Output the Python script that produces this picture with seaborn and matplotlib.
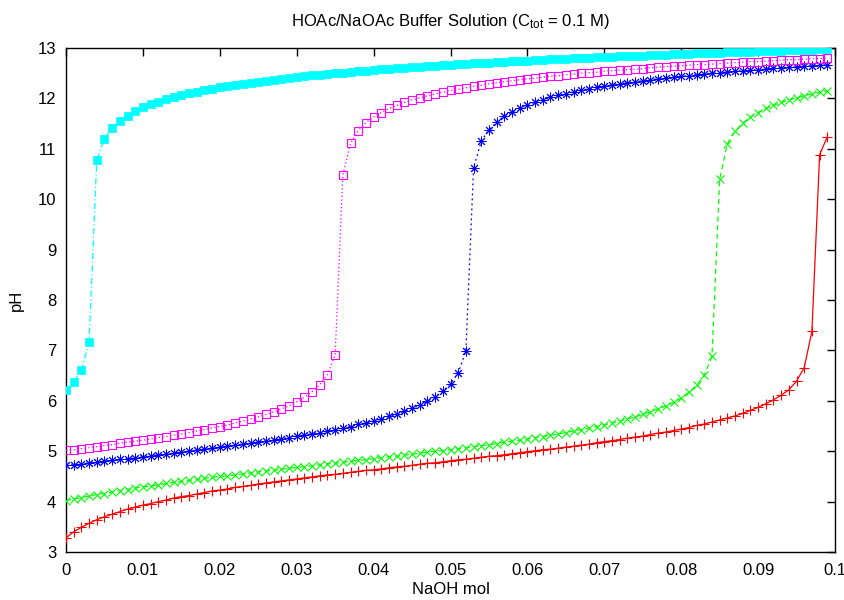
import matplotlib
matplotlib.use("Agg")
import matplotlib.pyplot as plt
import seaborn as sns

# ---------------- data ----------------
naoh_mol = [0.000, 0.001, 0.002, 0.003, 0.004, 0.005, 0.006, 0.007, 0.008, 0.009,
            0.010, 0.011, 0.012, 0.013, 0.014, 0.015, 0.016, 0.017, 0.018, 0.019,
            0.020, 0.021, 0.022, 0.023, 0.024, 0.025, 0.026, 0.027, 0.028, 0.029,
            0.030, 0.031, 0.032, 0.033, 0.034, 0.035, 0.036, 0.037, 0.038, 0.039,
            0.040, 0.041, 0.042, 0.043, 0.044, 0.045, 0.046, 0.047, 0.048, 0.049,
            0.050, 0.051, 0.052, 0.053, 0.054, 0.055, 0.056, 0.057, 0.058, 0.059,
            0.060, 0.061, 0.062, 0.063, 0.064, 0.065, 0.066, 0.067, 0.068, 0.069,
            0.070, 0.071, 0.072, 0.073, 0.074, 0.075, 0.076, 0.077, 0.078, 0.079,
            0.080, 0.081, 0.082, 0.083, 0.084, 0.085, 0.086, 0.087, 0.088, 0.089,
            0.090, 0.091, 0.092, 0.093, 0.094, 0.095, 0.096, 0.097, 0.098, 0.099]

ph_red = [3.28, 3.40, 3.49, 3.57, 3.64, 3.70, 3.75, 3.80, 3.85, 3.89,
          3.93, 3.96, 4.00, 4.03, 4.07, 4.10, 4.12, 4.15, 4.18, 4.21,
          4.23, 4.25, 4.28, 4.30, 4.32, 4.35, 4.37, 4.39, 4.41, 4.43,
          4.45, 4.47, 4.49, 4.51, 4.53, 4.54, 4.56, 4.58, 4.60, 4.62,
          4.63, 4.65, 4.67, 4.69, 4.70, 4.72, 4.74, 4.76, 4.77, 4.79,
          4.81, 4.83, 4.84, 4.86, 4.88, 4.90, 4.91, 4.93, 4.95, 4.97,
          4.99, 5.01, 5.03, 5.04, 5.06, 5.08, 5.10, 5.12, 5.14, 5.17,
          5.19, 5.21, 5.23, 5.26, 5.28, 5.30, 5.33, 5.36, 5.38, 5.41,
          5.44, 5.47, 5.51, 5.54, 5.58, 5.62, 5.66, 5.70, 5.75, 5.81,
          5.87, 5.94, 6.02, 6.11, 6.22, 6.39, 6.66, 7.38, 10.88, 11.24]

ph_green = [4.02, 4.05, 4.08, 4.11, 4.14, 4.16, 4.19, 4.22, 4.24, 4.27,
            4.29, 4.31, 4.33, 4.36, 4.38, 4.40, 4.42, 4.44, 4.46, 4.48,
            4.50, 4.51, 4.53, 4.55, 4.57, 4.59, 4.61, 4.62, 4.64, 4.66,
            4.68, 4.69, 4.71, 4.73, 4.75, 4.76, 4.78, 4.80, 4.82, 4.83,
            4.85, 4.87, 4.89, 4.90, 4.92, 4.94, 4.96, 4.98, 5.00, 5.01,
            5.03, 5.05, 5.07, 5.09, 5.11, 5.13, 5.15, 5.18, 5.20, 5.22,
            5.24, 5.27, 5.29, 5.32, 5.34, 5.37, 5.40, 5.43, 5.46, 5.49,
            5.52, 5.56, 5.60, 5.64, 5.68, 5.73, 5.78, 5.84, 5.90, 5.97,
            6.06, 6.17, 6.31, 6.51, 6.88, 10.40, 11.10, 11.35, 11.51, 11.63,
            11.72, 11.80, 11.86, 11.92, 11.97, 12.01, 12.05, 12.09, 12.12, 12.15]

ph_blue = [4.72, 4.73, 4.75, 4.77, 4.78, 4.80, 4.82, 4.84, 4.85, 4.87,
           4.89, 4.91, 4.93, 4.94, 4.96, 4.98, 5.00, 5.02, 5.04, 5.06,
           5.08, 5.10, 5.12, 5.14, 5.16, 5.18, 5.20, 5.22, 5.25, 5.27,
           5.30, 5.32, 5.35, 5.37, 5.40, 5.43, 5.46, 5.49, 5.53, 5.56,
           5.60, 5.64, 5.69, 5.73, 5.79, 5.85, 5.91, 5.99, 6.08, 6.19,
           6.34, 6.55, 6.99, 10.62, 11.15, 11.38, 11.53, 11.65, 11.73, 11.81,
           11.87, 11.93, 11.97, 12.02, 12.06, 12.09, 12.13, 12.16, 12.19, 12.22,
           12.24, 12.27, 12.29, 12.31, 12.33, 12.35, 12.37, 12.39, 12.41, 12.42,
           12.44, 12.45, 12.47, 12.48, 12.50, 12.51, 12.52, 12.54, 12.55, 12.56,
           12.57, 12.58, 12.60, 12.61, 12.62, 12.63, 12.64, 12.65, 12.66, 12.67]

ph_magenta = [5.02, 5.03, 5.05, 5.07, 5.09, 5.11, 5.13, 5.16, 5.18, 5.20,
              5.22, 5.24, 5.27, 5.29, 5.32, 5.34, 5.37, 5.40, 5.43, 5.46,
              5.49, 5.52, 5.56, 5.60, 5.64, 5.68, 5.73, 5.78, 5.84, 5.90,
              5.98, 6.07, 6.18, 6.32, 6.52, 6.91, 10.48, 11.11, 11.36, 11.52,
              11.63, 11.72, 11.80, 11.86, 11.92, 11.97, 12.01, 12.05, 12.09, 12.12,
              12.16, 12.18, 12.21, 12.24, 12.26, 12.29, 12.31, 12.33, 12.35, 12.37,
              12.39, 12.40, 12.42, 12.44, 12.45, 12.47, 12.48, 12.50, 12.51, 12.52,
              12.54, 12.55, 12.56, 12.57, 12.58, 12.59, 12.61, 12.62, 12.63, 12.64,
              12.65, 12.66, 12.67, 12.67, 12.68, 12.69, 12.70, 12.71, 12.72, 12.73,
              12.73, 12.74, 12.75, 12.76, 12.77, 12.77, 12.78, 12.79, 12.79, 12.80]

ph_cyan = [6.21, 6.37, 6.61, 7.16, 10.78, 11.20, 11.41, 11.56, 11.66, 11.75,
           11.82, 11.88, 11.93, 11.98, 12.02, 12.06, 12.10, 12.13, 12.16, 12.19,
           12.22, 12.25, 12.27, 12.29, 12.31, 12.33, 12.35, 12.37, 12.39, 12.41,
           12.43, 12.44, 12.46, 12.47, 12.49, 12.50, 12.51, 12.53, 12.54, 12.55,
           12.56, 12.58, 12.59, 12.60, 12.61, 12.62, 12.63, 12.64, 12.65, 12.66,
           12.67, 12.68, 12.69, 12.70, 12.70, 12.71, 12.72, 12.73, 12.74, 12.74,
           12.75, 12.76, 12.77, 12.78, 12.78, 12.79, 12.80, 12.80, 12.81, 12.82,
           12.82, 12.83, 12.84, 12.84, 12.85, 12.85, 12.86, 12.87, 12.87, 12.88,
           12.88, 12.89, 12.90, 12.90, 12.91, 12.91, 12.92, 12.92, 12.93, 12.93,
           12.94, 12.94, 12.95, 12.95, 12.96, 12.96, 12.97, 12.97, 12.98, 12.98]

x_ticks = [0.0, 0.01, 0.02, 0.03, 0.04, 0.05, 0.06, 0.07, 0.08, 0.09, 0.1]
x_tick_labels = ["0", "0.01", "0.02", "0.03", "0.04", "0.05", "0.06",
                 "0.07", "0.08", "0.09", "0.1"]
y_ticks = [3, 4, 5, 6, 7, 8, 9, 10, 11, 12, 13]
y_tick_labels = ["3", "4", "5", "6", "7", "8", "9", "10", "11", "12", "13"]

title_text = "HOAc/NaOAc Buffer Solution (C$_{tot}$ = 0.1 M)"
x_label = "NaOH mol"
y_label = "pH"

# ---------------- style ----------------
sns.set_theme(style="white")
plt.rcParams['font.family'] = ['Liberation Sans', 'DejaVu Sans']
plt.rcParams['mathtext.fontset'] = 'custom'
plt.rcParams['mathtext.rm'] = 'Liberation Sans'
plt.rcParams['mathtext.it'] = 'Liberation Sans'
plt.rcParams['mathtext.default'] = 'regular'
plt.rcParams['text.color'] = 'black'
plt.rcParams['axes.labelcolor'] = 'black'

fig = plt.figure(figsize=(8.45, 6.0), dpi=100)
W, H = 845, 600
ax = fig.add_axes([66 / W, (H - 552) / H, (835 - 66) / W, (552 - 48) / H])

series = [
    (ph_red, dict(color="#ff0000", marker="+", markersize=6.5, markeredgewidth=0.8,
                  markeredgecolor="#ff0000", linestyle="-")),
    (ph_green, dict(color="#00ff00", marker="x", markersize=5.5, markeredgewidth=0.8,
                    markeredgecolor="#00ff00", linestyle=(0, (4, 3)))),
    (ph_blue, dict(color="#0000ff", marker=(8, 2, 0), markersize=7, markeredgewidth=0.7,
                   markeredgecolor="#0000ff", linestyle=(0, (1.5, 2.5)))),
    (ph_magenta, dict(color="#ff00ff", marker="s", markersize=6, markeredgewidth=0.8,
                      markeredgecolor="#ff00ff", markerfacecolor="none",
                      linestyle=(0, (1, 2)))),
    (ph_cyan, dict(color="#00ffff", marker="s", markersize=6.2, markeredgewidth=0.5,
                   markeredgecolor="#00ffff", markerfacecolor="#00ffff",
                   linestyle=(0, (5, 2, 1, 2)))),
]

for z, (vals, st) in enumerate(series):
    sns.lineplot(x=naoh_mol, y=vals, ax=ax, estimator=None, sort=False,
                 linewidth=0.9, zorder=3 + z, **st)

ax.set_xlim(0, 0.1)
ax.set_ylim(3, 13)
ax.set_xticks(x_ticks)
ax.set_xticklabels(x_tick_labels)
ax.set_yticks(y_ticks)
ax.set_yticklabels(y_tick_labels)
ax.tick_params(axis="both", direction="in", length=6, width=1, color="black",
               top=True, right=True, labelsize=12, labelcolor="black")
ax.tick_params(axis="x", pad=8)
ax.tick_params(axis="y", pad=7)
for sp in ax.spines.values():
    sp.set_color("black")
    sp.set_linewidth(1)
    sp.set_visible(True)

ax.set_title(title_text, fontsize=12, color="black", pad=16)
ax.set_xlabel(x_label, fontsize=12, labelpad=3)
ax.set_ylabel(y_label, fontsize=12, labelpad=10)

fig.savefig("out.png", dpi=100)
